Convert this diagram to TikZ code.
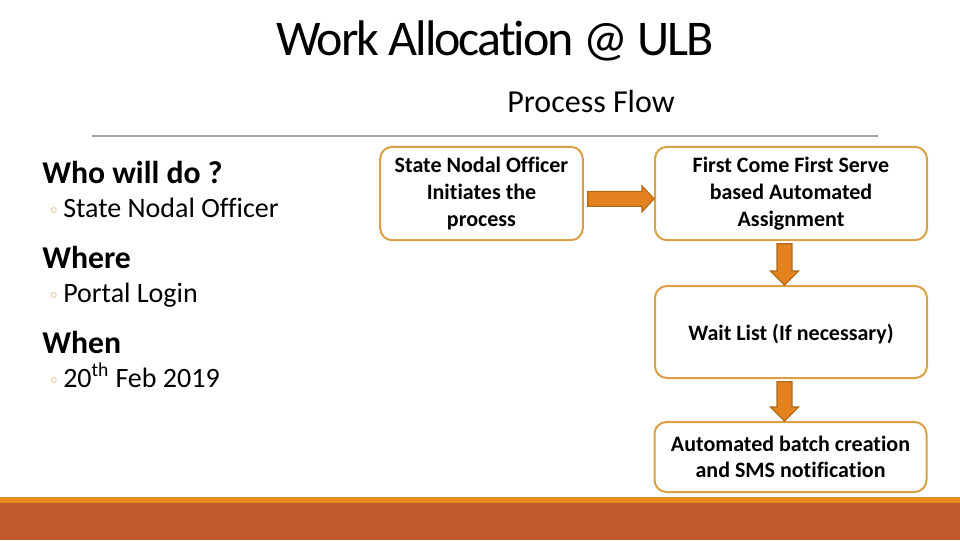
\documentclass[tikz,border=0pt]{standalone}
\usepackage{fontspec}
\setmainfont{Carlito}[Ligatures=NoCommon]
\newfontfamily\symfont{DejaVu Sans}
\usetikzlibrary{calc}

\definecolor{boxline}{HTML}{D9A046}
\definecolor{arrowfill}{HTML}{E5821F}
\definecolor{arrowline}{HTML}{B06A1A}
\definecolor{bandtop}{HTML}{E48A1E}
\definecolor{band}{HTML}{BE5A2B}
\definecolor{rulegray}{HTML}{A6A6A6}

\newcommand{\bul}{{\color{boxline}\symfont\fontsize{14}{14}\selectfont ◦}\hspace{3pt}}
% block arrows between two boxes
\newcommand{\hflow}[2]{\draw[barrow] let \p1=(#1.east), \p2=(#2.west) in
  (\x1+3pt,\y1-4pt+5.6pt) -- (\x2-9pt,\y1-4pt+5.6pt) -- (\x2-9pt,\y1-4pt+9.75pt) -- (\x2,\y1-4pt)
  -- (\x2-9pt,\y1-4pt-9.75pt) -- (\x2-9pt,\y1-4pt-5.6pt) -- (\x1+3pt,\y1-4pt-5.6pt) -- cycle;}
\newcommand{\vflow}[2]{\draw[barrow] let \p1=(#1.south), \p2=(#2.north) in
  (\x1-4.9pt+5.6pt,\y1-2pt) -- (\x1-4.9pt+5.6pt,\y2+10.5pt) -- (\x1-4.9pt+10.5pt,\y2+10.5pt) -- (\x1-4.9pt,\y2)
  -- (\x1-4.9pt-10.5pt,\y2+10.5pt) -- (\x1-4.9pt-5.6pt,\y2+10.5pt) -- (\x1-4.9pt-5.6pt,\y1-2pt) -- cycle;}

\tikzset{
  flow/.style={draw=boxline, line width=1.5pt, rounded corners=9pt, fill=white, align=center,
    font=\bfseries\fontsize{16.5}{20}\selectfont, execute at begin node={\rule{0pt}{15pt}}},
  barrow/.style={fill=arrowfill, draw=arrowline, line width=0.9pt},
  head/.style={anchor=base west, font=\bfseries\fontsize{23.8}{28}\selectfont},
  item/.style={anchor=base west, font=\fontsize{21}{25}\selectfont}
}

\begin{document}
\begin{tikzpicture}[x=0.75pt, y=-0.75pt, every node/.style={inner sep=0pt}]
\useasboundingbox[fill=white] (0,0) rectangle (960,540);
% title and rule
\node[anchor=base, font=\fontsize{37.5}{44}\selectfont\addfontfeatures{LetterSpace=-4}] (title) at (495,55) {Work Allocation @ ULB};
\node[anchor=base, font=\fontsize{24}{28}\selectfont] (pflow) at (591,112) {Process Flow};
\coordinate (rl) at (92,136);
\coordinate (rr) at (878,136);
\draw[rulegray, line width=0.8pt] (rl) -- (rr);

% left column
\node[head] (who) at (42,183) {Who will do ?};
\node[item] (whoi) at (48,217) {\bul State Nodal Officer};
\node[head] (where) at (42,268) {Where};
\node[item] (wherei) at (48,302) {\bul Portal Login};
\node[head] (when) at (42,353) {When};
\node[item] (wheni) at (48,387) {\bul 20\textsuperscript{th} Feb 2019};

% flow boxes
\node[flow, minimum width=152pt, minimum height=70pt] (sno) at (481.5,193.5) {State Nodal Officer\\Initiates the\\process};
\node[flow, minimum width=204pt, minimum height=70pt] (fcfs) at (791,193.5) {First Come First Serve\\based Automated\\Assignment};
\node[flow, minimum width=204pt, minimum height=69pt] (wait) at (791,332) {Wait List (If necessary)};
\node[flow, minimum width=204pt, minimum height=52.5pt] (batch) at (790.5,457) {Automated batch creation\\and SMS notification};

\hflow{sno}{fcfs}
\vflow{fcfs}{wait}
\vflow{wait}{batch}

% bottom band
\fill[bandtop] (0,497) rectangle (960,503);
\fill[band] (0,503) rectangle (960,540);
\end{tikzpicture}
\end{document}
